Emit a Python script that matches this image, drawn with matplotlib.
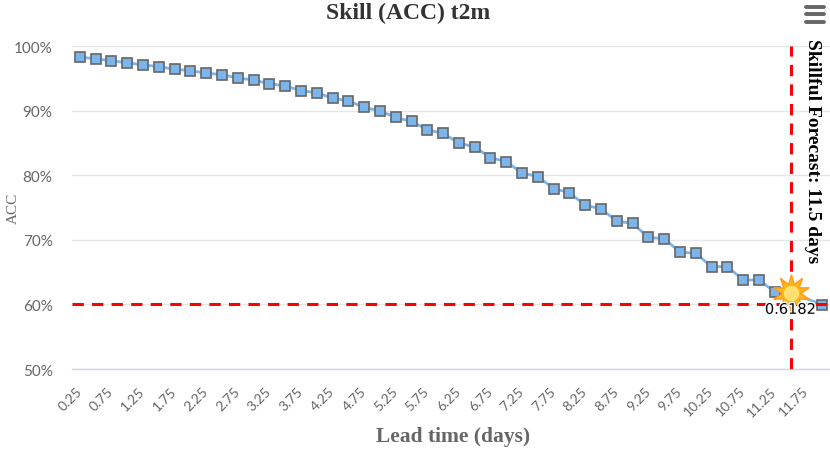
import numpy as np
import matplotlib
matplotlib.use("Agg")
import matplotlib.pyplot as plt
import matplotlib.patheffects as pe
from matplotlib.lines import Line2D

# lead times every 6 hours
lead_days = [0.25, 0.5, 0.75, 1.0, 1.25, 1.5, 1.75, 2.0, 2.25, 2.5, 2.75, 3.0,
             3.25, 3.5, 3.75, 4.0, 4.25, 4.5, 4.75, 5.0, 5.25, 5.5, 5.75, 6.0,
             6.25, 6.5, 6.75, 7.0, 7.25, 7.5, 7.75, 8.0, 8.25, 8.5, 8.75, 9.0,
             9.25, 9.5, 9.75, 10.0, 10.25, 10.5, 10.75, 11.0, 11.25, 11.5, 11.75, 12.0]
acc = [98.26, 98.04, 97.69, 97.42, 97.07, 96.81, 96.40, 96.19, 95.79, 95.57,
       95.02, 94.75, 94.14, 93.83, 93.10, 92.75, 91.93, 91.51, 90.48, 89.97,
       88.94, 88.32, 87.04, 86.47, 84.98, 84.37, 82.72, 82.10, 80.35, 79.78,
       77.93, 77.27, 75.35, 74.80, 72.89, 72.53, 70.37, 70.17, 68.10, 67.90,
       65.85, 65.85, 63.78, 63.78, 61.95, 61.82, 60.90, 59.95]

threshold = 60
skill_day = 11.5
skill_value = 61.82

W, H = 830, 452
fig = plt.figure(figsize=(W / 100, H / 100), dpi=100)
ax = fig.add_axes([72 / W, 1 - 370 / H, 758 / W, 323 / H])

x = np.arange(len(lead_days))
skill_idx = lead_days.index(skill_day)
marks = [i for i in range(len(x)) if i not in (skill_idx, skill_idx + 1)]

ax.plot(x, acc, color="#7cb5ec", lw=2, zorder=3,
        marker="s", markersize=7, markerfacecolor="#7cb5ec",
        markeredgecolor="#666666", markeredgewidth=1.2, markevery=marks)

# star at the skill limit
ax.plot(skill_idx, skill_value, marker=(10, 1, 0), markersize=27,
        markerfacecolor="#ffb81a", markeredgecolor="#ff9a1a", markeredgewidth=1, zorder=6)
ax.plot(skill_idx, skill_value, marker="o", markersize=11,
        markerfacecolor="#ffe070", markeredgecolor="none", zorder=7)
ax.annotate(f"{skill_value / 100:.4f}", (skill_idx, skill_value), xytext=(0, -12),
            textcoords="offset points", ha="center", va="center", fontsize=10.5,
            family="DejaVu Sans", color="black", zorder=8,
            path_effects=[pe.withStroke(linewidth=2, foreground="white")])

# threshold lines
ax.axhline(threshold, color="#ff0000", lw=2.2, ls=(0, (3.7, 2.7)), zorder=4)
ax.axvline(skill_idx, color="#ff0000", lw=2.2, ls=(0, (3.7, 2.7)), zorder=4)

ax.set_xlim(-0.5, len(x) - 0.5)
ax.set_ylim(50, 100)
ax.set_yticks([50, 60, 70, 80, 90, 100])
ax.set_yticklabels([f"{v}%" for v in [50, 60, 70, 80, 90, 100]])
ax.yaxis.grid(True, color="#e6e6e6", lw=1)
ax.set_axisbelow(True)
for s in ["top", "right", "left"]:
    ax.spines[s].set_visible(False)
ax.spines["bottom"].set_color("#ccd6eb")
ax.spines["bottom"].set_linewidth(1)

ax.set_xticks(x[::2])
ax.set_xticklabels([f"{d:g}" for d in lead_days[::2]], rotation=45, ha="right",
                   va="center", rotation_mode="anchor", family="Lato", fontsize=10,
                   color="#666666")
ax.tick_params(axis="x", length=0, pad=14)
ax.tick_params(axis="y", length=0, pad=14, labelcolor="#666666", labelsize=11)
for t in ax.get_yticklabels():
    t.set_family("Lato")

ax.set_ylabel("ACC", family="Liberation Serif", fontsize=11, color="#666666")
ax.yaxis.set_label_coords((20 - 72) / 758, 0.5)

fig.text(408 / W, 1 - 13 / H, "Skill (ACC) t2m", ha="center", va="center",
         family="Liberation Serif", weight="bold", fontsize=17, color="#333333")
fig.text(453 / W, 1 - 437 / H, "Lead time (days)", ha="center", va="center",
         family="Liberation Serif", weight="bold", fontsize=15.5, color="#666666")
fig.text(812 / W, 1 - 151 / H, f"Skillful Forecast: {skill_day:g} days", rotation=270,
         ha="center", va="center", family="Liberation Serif", weight="bold",
         fontsize=14, color="black")

# menu icon
for yy in [7.5, 15, 22.5]:
    fig.add_artist(Line2D([806 / W, 824 / W], [1 - yy / H, 1 - yy / H],
                          transform=fig.transFigure, color="#666666", lw=2.8,
                          solid_capstyle="round"))

fig.savefig("out.png", dpi=100)
